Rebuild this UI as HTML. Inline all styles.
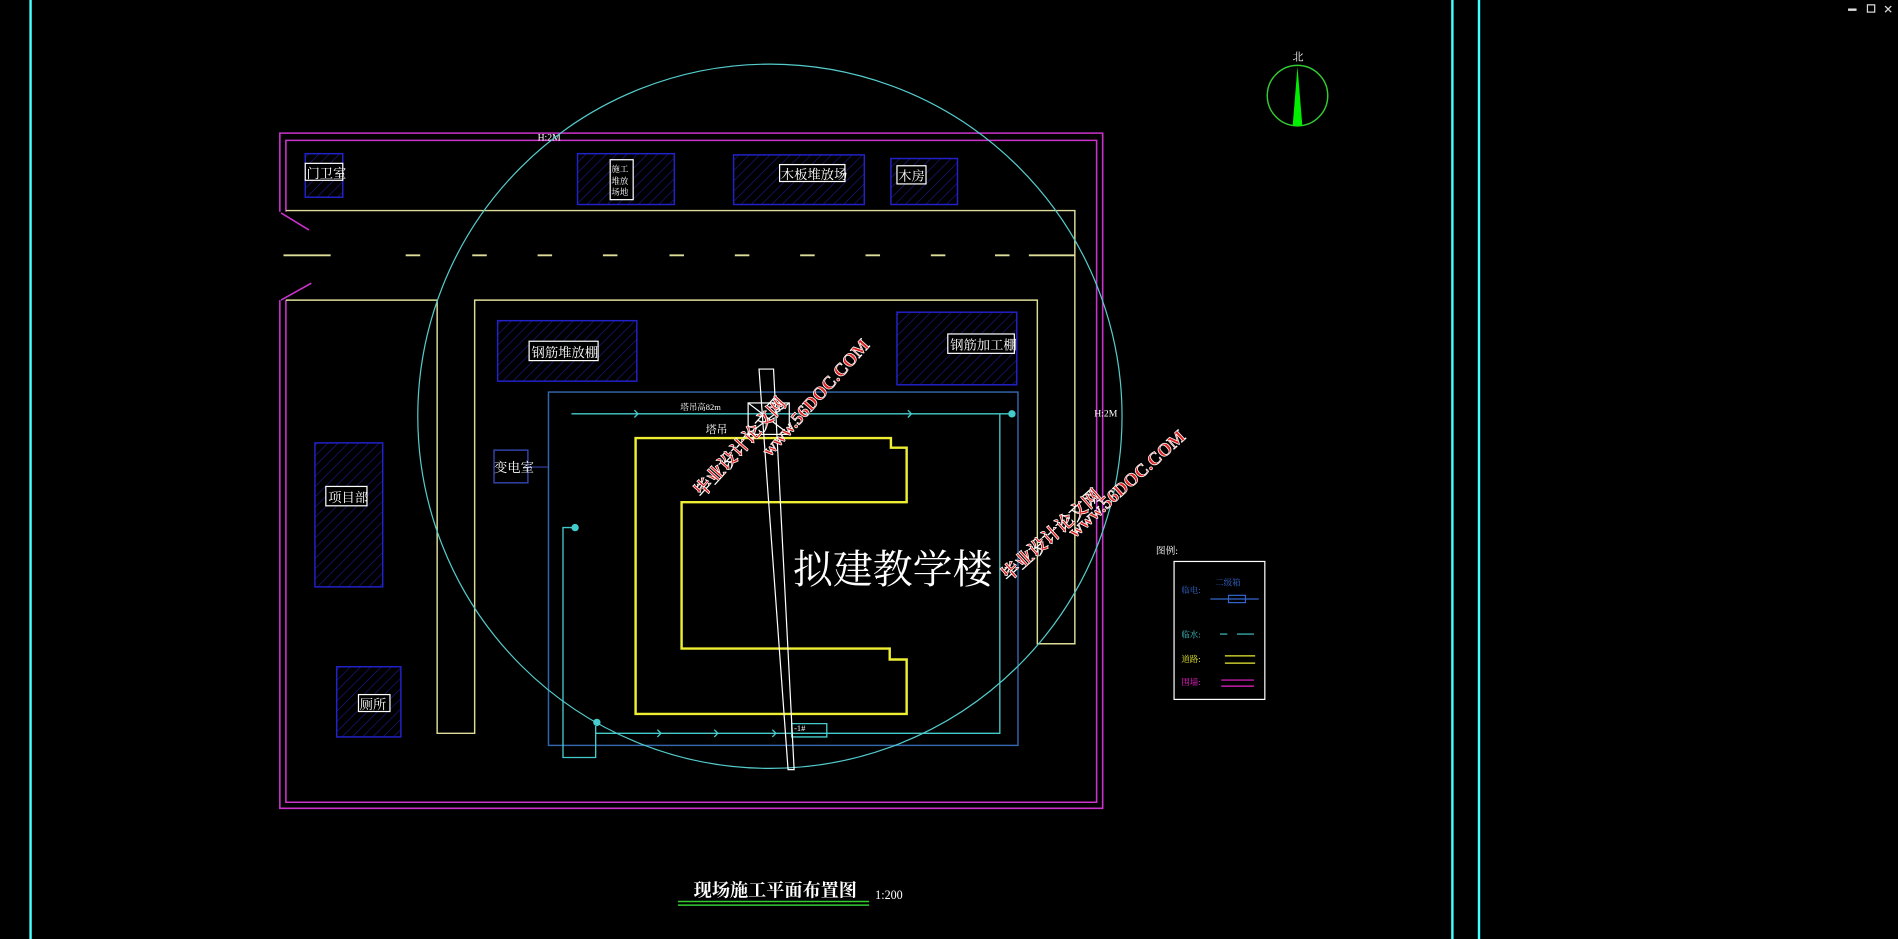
<!DOCTYPE html>
<html><head><meta charset="utf-8"><style>
html,body{margin:0;padding:0;background:#000;overflow:hidden}
svg{display:block}
text{font-family:"Liberation Serif","Noto Serif CJK SC","Noto Sans CJK SC",serif}
</style></head><body>
<svg width="1898" height="939" viewBox="0 0 1568 776" xmlns="http://www.w3.org/2000/svg">
<defs>
<pattern id="h" width="6" height="6" patternUnits="userSpaceOnUse" patternTransform="rotate(45)">
<line x1="0" y1="0" x2="0" y2="6" stroke="#1a1a90" stroke-width="1"/></pattern>
</defs>
<rect width="1568" height="776" fill="#000"/>
<g stroke="#4ff" stroke-width="2"><line x1="25" y1="0" x2="25" y2="776"/><line x1="1200" y1="0" x2="1200" y2="776"/><line x1="1222" y1="0" x2="1222" y2="776"/></g>
<g fill="#ddd" font-size="10" font-family="Liberation Sans"><rect x="1527" y="7" width="7" height="2"/><rect x="1543" y="4" width="6" height="6" fill="none" stroke="#ddd"/><text x="1556" y="11">✕</text></g>
<!-- magenta fence -->
<g stroke="#c3c" fill="none" stroke-width="1.3">
<path d="M231 175V110H911V668H231V248"/><path d="M236 175V116H906V663H236V248"/>
<line x1="232" y1="176" x2="255" y2="190"/><line x1="232" y1="248" x2="257" y2="234"/>
</g>
<text x="444" y="116" fill="#fff" font-size="8">H:2M</text>
<text x="904" y="344" fill="#fff" font-size="8">H:2M</text>
<!-- road -->
<g stroke="#dd9" fill="none" stroke-width="1.2">
<path d="M236 174H888V532H857V248H392V606H361V248H236"/>
<path d="M234 211H273M335 211H347M390 211H402M444 211H456M498 211H510M553 211H565M607 211H619M661 211H673M715 211H727M769 211H781M822 211H834M850 211H888" stroke-width="1.5"/>
</g>
<!-- hatched boxes -->
<g stroke="#22c" fill="url(#h)" stroke-width="1.2">
<rect x="252" y="127" width="31" height="36"/><rect x="477" y="127" width="80" height="42"/>
<rect x="606" y="128" width="108" height="41"/><rect x="736" y="131" width="55" height="38"/>
<rect x="411" y="265" width="115" height="50"/><rect x="741" y="258" width="99" height="60"/>
<rect x="260" y="366" width="56" height="119"/><rect x="278" y="551" width="53" height="58"/>
</g>
<rect x="408" y="372" width="28" height="27" fill="none" stroke="#34a" stroke-width="1.2"/>
<line x1="436" y1="386" x2="453" y2="386" stroke="#34a"/>
<g fill="#000" stroke="#fff" stroke-width="1">
<rect x="252" y="135" width="31" height="14"/><rect x="504" y="132" width="19" height="33"/>
<rect x="644" y="136" width="54" height="14"/><rect x="741" y="137" width="24" height="15"/>
<rect x="437" y="282" width="57" height="16"/><rect x="783" y="276" width="55" height="16"/>
<rect x="269" y="402" width="34" height="16"/><rect x="296" y="574" width="26" height="14"/>
</g>
<g fill="#fff" font-size="11">
<text x="253" y="147">门卫室</text><text x="645" y="148">木板堆放场</text><text x="742" y="149">木房</text>
<text x="439" y="295">钢筋堆放棚</text><text x="785" y="289">钢筋加工棚</text>
<text x="271" y="415">项目部</text><text x="297" y="586">厕所</text><text x="408" y="390">变电室</text>
<text x="505" y="142" font-size="7">施工</text><text x="505" y="152" font-size="7">堆放</text><text x="505" y="161" font-size="7">场地</text>
<text x="562" y="339" font-size="7">塔吊高82m</text><text x="583" y="358" font-size="9">塔吊</text>
<text x="656" y="604" font-size="7">-1#</text>
</g>
<!-- blue site rect -->
<rect x="453" y="324" width="388" height="292" fill="none" stroke="#36a" stroke-width="1.2"/>
<line x1="453" y1="326" x2="453" y2="600" stroke="#000" stroke-width="0"/>
<!-- water line -->
<g stroke="#4cc" fill="none" stroke-width="1.1">
<path d="M472 342H836M826 342V606H492M475 436H465V626H492V600"/>
<path d="M654 598H683V609H654z"/>
<circle cx="836" cy="342" r="2.5" fill="#4cc"/><circle cx="475" cy="436" r="2.5" fill="#4cc"/><circle cx="493" cy="597" r="2.5" fill="#4cc"/>
<path d="M524 339l3 3-3 3M750 339l3 3-3 3M543 603l3 3-3 3M590 603l3 3-3 3M638 603l3 3-3 3"/>
</g>
<!-- building -->
<path d="M525 362H736V370H749V415H563V536H735V545H749V590H525Z" fill="none" stroke="#ee3" stroke-width="2"/>
<!-- circle -->
<circle cx="636" cy="344" r="291" fill="none" stroke="#5cc" stroke-width="1"/>
<!-- crane -->
<g stroke="#fff" fill="none" stroke-width="1">
<path d="M627 305H639L656 636H651Z"/><rect x="618" y="333" width="34" height="26"/><path d="M618 333L652 359M652 333L618 359"/>
</g>
<text x="655" y="482" fill="#fff" font-size="33" font-family="Liberation Sans,'Noto Sans CJK SC',sans-serif">拟建教学楼</text>
<!-- watermarks -->
<g fill="#d22" stroke="#fff" stroke-width="0.6" font-weight="bold" font-family="Liberation Sans,'Noto Sans CJK SC',sans-serif">
<text transform="translate(580,412) rotate(-48)" font-size="15">毕业设计论文网</text>
<text transform="translate(636,378) rotate(-48)" font-size="15">www.56DOC.COM</text>
<text transform="translate(833,481) rotate(-42)" font-size="15">毕业设计论文网</text>
<text transform="translate(888,445) rotate(-42)" font-size="15">www.56DOC.COM</text>
</g>
<!-- north -->
<circle cx="1072" cy="79" r="25" fill="none" stroke="#3c3" stroke-width="1.2"/>
<path d="M1072 55L1076 104H1068Z" fill="#0e0"/>
<text x="1068" y="50" fill="#fff" font-size="9">北</text>
<!-- legend -->
<text x="955" y="458" fill="#fff" font-size="8">图例:</text>
<rect x="970" y="464" width="75" height="114" fill="none" stroke="#fff" stroke-width="1"/>
<g font-size="7">
<text x="976" y="490" fill="#36c">临电:</text><text x="1004" y="484" fill="#36c">二级箱</text>
<text x="976" y="527" fill="#4cc">临水:</text><text x="976" y="547" fill="#ee3">道路:</text><text x="976" y="566" fill="#e2c">围墙:</text>
</g>
<g fill="none" stroke-width="1">
<path d="M1000 495H1040" stroke="#36c"/><rect x="1015" y="492" width="14" height="6" stroke="#36c"/>
<path d="M1008 524H1014M1022 524H1036" stroke="#4cc"/>
<path d="M1012 542H1037M1012 548H1037" stroke="#ee3"/>
<path d="M1009 562H1036M1009 567H1036" stroke="#e2c"/>
</g>
<!-- title -->
<text x="573" y="741" fill="#fff" font-size="15" font-weight="bold">现场施工平面布置图</text>
<text x="723" y="743" fill="#fff" font-size="10">1:200</text>
<path d="M560 745H718M560 748H718" stroke="#3c3" stroke-width="1.2"/>
</svg>
</body></html>
